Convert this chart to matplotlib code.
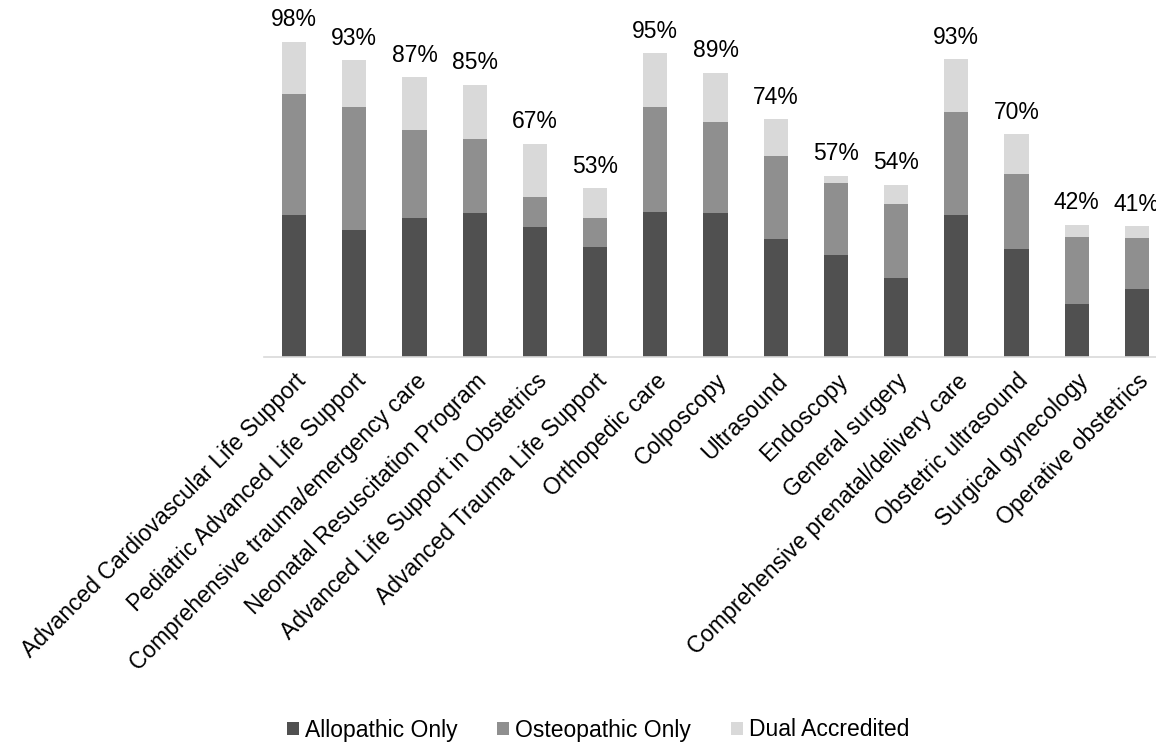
import matplotlib
matplotlib.use("Agg")
import matplotlib.pyplot as plt
import numpy as np

categories = [
    "Advanced Cardiovascular Life Support",
    "Pediatric Advanced Life Support",
    "Comprehensive trauma/emergency care",
    "Neonatal Resuscitation Program",
    "Advanced Life Support in Obstetrics",
    "Advanced Trauma Life Support",
    "Orthopedic care",
    "Colposcopy",
    "Ultrasound",
    "Endoscopy",
    "General surgery",
    "Comprehensive prenatal/delivery care",
    "Obstetric ultrasound",
    "Surgical gynecology",
    "Operative obstetrics",
]
allopathic = [44.5, 39.8, 43.5, 45.1, 40.7, 34.5, 45.2, 45.1, 37.0, 31.9, 24.8, 44.5, 33.8, 16.7, 21.2]
osteopathic = [37.7, 38.4, 27.4, 22.9, 9.2, 9.0, 33.0, 28.4, 25.8, 22.6, 23.1, 32.2, 23.3, 20.8, 16.0]
dual = [16.3, 14.6, 16.5, 17.1, 16.8, 9.2, 16.7, 15.3, 11.5, 2.2, 5.9, 16.4, 12.6, 3.8, 3.75]
total_labels = ["98%", "93%", "87%", "85%", "67%", "53%", "95%", "89%", "74%", "57%", "54%", "93%", "70%", "42%", "41%"]
series_names = ["Allopathic Only", "Osteopathic Only", "Dual Accredited"]

colors = ["#505050", "#8f8f8f", "#d9d9d9"]

plt.rcParams['font.family'] = ['Liberation Sans', 'DejaVu Sans']

W, H = 1156, 742
fig = plt.figure(figsize=(W / 100, H / 100), dpi=100)
left = 264 / W
bottom = (H - 357) / H
width = 903 / W
height = 320 / H
ax = fig.add_axes([left, bottom, width, height])

x = np.arange(len(categories))
a = np.array(allopathic)
o = np.array(osteopathic)
d = np.array(dual)
bw = 0.4
b1 = ax.bar(x, a, bw, color=colors[0], label=series_names[0], linewidth=0)
b2 = ax.bar(x, o, bw, bottom=a, color=colors[1], label=series_names[1], linewidth=0)
b3 = ax.bar(x, d, bw, bottom=a + o, color=colors[2], label=series_names[2], linewidth=0)

tops = a + o + d
for xi, t, lab in zip(x, tops, total_labels):
    ax.annotate(lab, (xi, t), xytext=(0, 7.5), textcoords="offset points",
                ha="center", va="bottom", fontsize=16.5, color="#000000",
                annotation_clip=False)

ax.set_xlim(-0.5, len(categories) - 0.5)
ax.set_ylim(0, 100)
ax.set_yticks([])
for s in ["top", "right", "left"]:
    ax.spines[s].set_visible(False)
ax.spines["bottom"].set_color("#d9d9d9")
ax.spines["bottom"].set_linewidth(1.2)
ax.set_xticks(x)
ax.set_xticklabels(categories, rotation=45, ha="right", rotation_mode="anchor",
                   fontsize=16.5, color="#000000")
ax.tick_params(axis="x", length=0, pad=9)

leg = fig.legend(handles=[b1, b2, b3], labels=series_names, loc="center",
                 bbox_to_anchor=(598 / W, (H - 730) / H), ncol=3, frameon=False,
                 fontsize=16.5, handlelength=0.52, handleheight=0.52,
                 handletextpad=0.25, columnspacing=1.75)

fig.savefig("out.png", dpi=100)
